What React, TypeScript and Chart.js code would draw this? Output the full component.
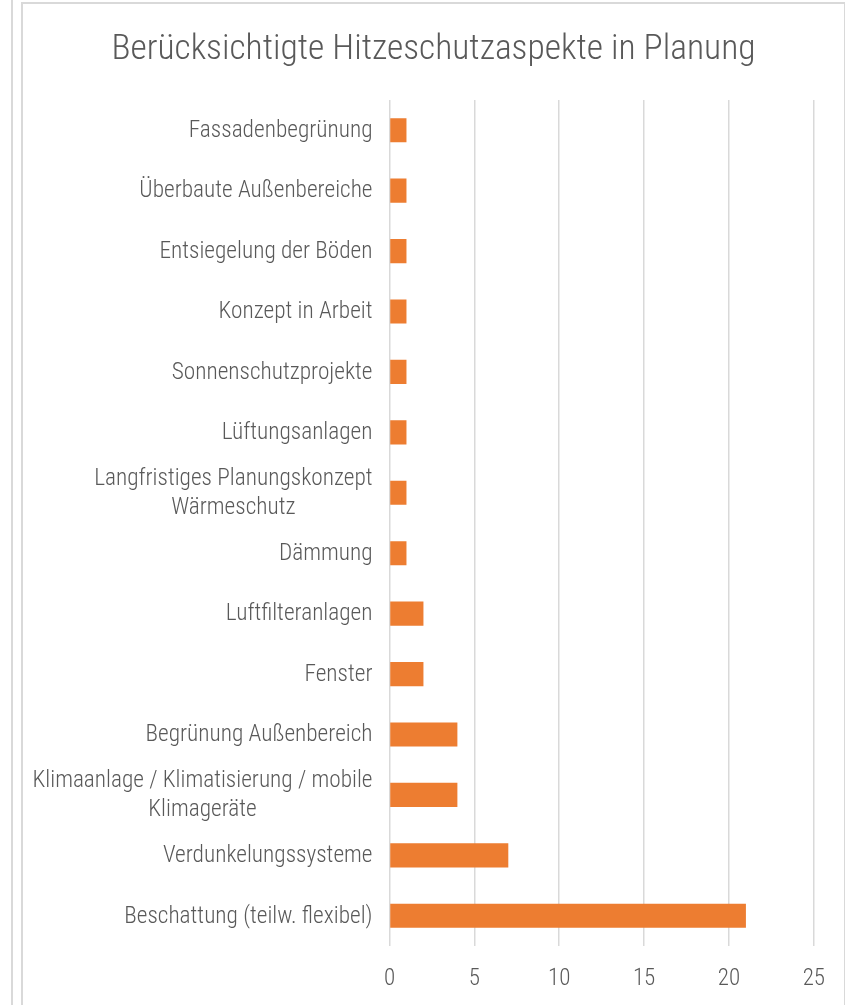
import React, { useEffect, useRef } from "react";
import { Chart, registerables } from "chart.js";

Chart.register(...registerables);

const TITLE = "Berücksichtigte Hitzeschutzaspekte in Planung";

const categories: string[][] = [
  ["Fassadenbegrünung"],
  ["Überbaute Außenbereiche"],
  ["Entsiegelung der Böden"],
  ["Konzept in Arbeit"],
  ["Sonnenschutzprojekte"],
  ["Lüftungsanlagen"],
  ["Langfristiges Planungskonzept", "Wärmeschutz"],
  ["Dämmung"],
  ["Luftfilteranlagen"],
  ["Fenster"],
  ["Begrünung Außenbereich"],
  ["Klimaanlage / Klimatisierung / mobile", "Klimageräte"],
  ["Verdunkelungssysteme"],
  ["Beschattung (teilw. flexibel)"],
];

const values: number[] = [1, 1, 1, 1, 1, 1, 1, 1, 2, 2, 4, 4, 7, 21];

const xMin = 0;
const xMax = 25;
const xStep = 5;

const FONT = '"Roboto Condensed", "DejaVu Sans Condensed", sans-serif';
const TEXT = "#595959";
const GRID = "#d9d9d9";
const BAR = "#ED7D31";

const CW = 821;
const CH = 1001;

const textPlugin = {
  id: "customText",
  afterDraw(chart: any) {
    const ctx = chart.ctx as CanvasRenderingContext2D;
    const y = chart.scales.y;
    ctx.save();
    // title
    ctx.font = `300 35.5px ${FONT}`;
    ctx.fillStyle = TEXT;
    ctx.textAlign = "center";
    ctx.textBaseline = "alphabetic";
    ctx.fillText(TITLE, 410.5, 55);
    // category labels, lines centred on each other, block right-aligned
    ctx.font = `300 23.3px ${FONT}`;
    ctx.textBaseline = "middle";
    const rightEdge = y.right - 17;
    const lh = 29;
    categories.forEach((lines, i) => {
      const cy = y.getPixelForValue(i) + 1;
      const widest = Math.max(...lines.map((l) => ctx.measureText(l).width));
      const cx = rightEdge - widest / 2;
      const y0 = cy - ((lines.length - 1) * lh) / 2;
      lines.forEach((l, j) => ctx.fillText(l, cx, y0 + j * lh));
    });
    ctx.restore();
  },
};

export default function App() {
  const ref = useRef<HTMLCanvasElement | null>(null);
  useEffect(() => {
    if (!ref.current) return;
    const chart = new Chart(ref.current, {
      type: "bar",
      data: {
        labels: categories,
        datasets: [
          {
            data: values,
            backgroundColor: BAR,
            borderWidth: 0,
            barPercentage: 0.4,
            categoryPercentage: 1,
          },
        ],
      },
      options: {
        indexAxis: "y",
        animation: false,
        responsive: false,
        devicePixelRatio: 1,
        layout: { padding: { left: 0, right: 28.5, top: 96, bottom: 0 } },
        plugins: {
          legend: { display: false },
          tooltip: { enabled: false },
          title: { display: false },
        },
        scales: {
          x: {
            min: xMin,
            max: xMax,
            ticks: {
              stepSize: xStep,
              color: TEXT,
              font: { family: FONT, size: 23, weight: "300" as any },
              padding: 19,
            },
            grid: { color: GRID, lineWidth: 1.5, drawTicks: false },
            border: { display: false },
            afterFit: (s: any) => {
              s.height = 59;
            },
          },
          y: {
            ticks: { display: false },
            grid: { display: false },
            border: { display: false },
            afterFit: (s: any) => {
              s.width = 366.5;
            },
          },
        },
      },
      plugins: [textPlugin],
    });
    return () => chart.destroy();
  }, []);

  return (
    <div style={{ position: "fixed", left: 0, top: 0, width: 853, height: 1005, background: "#fff", overflow: "hidden" }}>
      <div style={{ position: "absolute", left: 11, top: 0, width: 2, height: 1005, background: GRID }} />
      <div
        style={{
          position: "absolute",
          left: 21,
          top: 2,
          width: CW,
          height: 1020,
          borderTop: `2px solid ${GRID}`,
          borderLeft: `2px solid ${GRID}`,
          borderRight: `1.5px solid ${GRID}`,
          background: "#fff",
        }}
      >
        <canvas ref={ref} width={CW} height={CH} style={{ display: "block", width: CW, height: CH }} />
      </div>
    </div>
  );
}
